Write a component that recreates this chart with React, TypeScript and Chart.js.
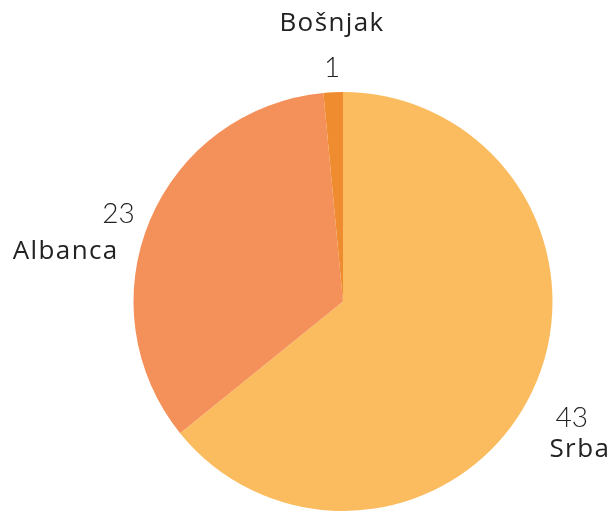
import React, { useEffect, useRef } from "react";
import { Chart, registerables } from "chart.js";

Chart.register(...registerables);

const categories = ["Srba", "Albanca", "Bošnjak"];
const values = [43, 23, 1];
const colors = ["#FBBC5F", "#F4915A", "#F08C30"];

const NUM_FONT = "Lato, 'Open Sans', sans-serif";
const NAME_FONT = "'Open Sans', Lato, sans-serif";

const labelPlugin = {
  id: "outerLabels",
  afterDatasetsDraw(chart: any) {
    const ctx = chart.ctx;
    const meta = chart.getDatasetMeta(0);
    meta.data.forEach((arc: any, i: number) => {
      const { x, y, startAngle, endAngle, outerRadius } = arc.getProps(
        ["x", "y", "startAngle", "endAngle", "outerRadius"],
        true
      );
      const mid = (startAngle + endAngle) / 2;
      const c = Math.cos(mid);
      const R = outerRadius + 28 + 11 * Math.abs(c) + (c > 0 ? 6 : -4);
      const nx = x + c * R;
      const ny = y + Math.sin(mid) * R + 8 * Math.abs(c);
      ctx.save();
      ctx.fillStyle = "#222";
      ctx.textBaseline = "middle";
      ctx.font = `300 28px ${NUM_FONT}`;
      ctx.textAlign = "center";
      const numText = String(values[i]);
      const nw = ctx.measureText(numText).width;
      ctx.fillText(numText, nx, ny);
      ctx.font = `400 26px ${NAME_FONT}`;
      (ctx as any).letterSpacing = "1.4px";
      const name = categories[i];
      if (Math.abs(c) < 0.3) {
        ctx.textAlign = "center";
        ctx.fillText(name, nx, ny - 45);
      } else if (c > 0) {
        ctx.textAlign = "left";
        ctx.fillText(name, nx - nw / 2 - 6, ny + 32);
      } else {
        ctx.textAlign = "right";
        ctx.fillText(name, nx + nw / 2 - 16, ny + 37);
      }
      ctx.restore();
    });
  },
};

export default function App() {
  const ref = useRef<HTMLCanvasElement>(null);
  useEffect(() => {
    if (!ref.current) return;
    const chart = new Chart(ref.current, {
      type: "pie",
      data: {
        labels: categories,
        datasets: [
          {
            data: values,
            backgroundColor: colors,
            borderWidth: 0,
          },
        ],
      },
      options: {
        responsive: false,
        animation: false,
        layout: { padding: { left: 133, right: 57, top: 92, bottom: 0 } },
        plugins: {
          legend: { display: false },
          tooltip: { enabled: false },
        },
      },
      plugins: [labelPlugin],
    });
    return () => chart.destroy();
  }, []);
  return (
    <div style={{ position: "fixed", left: 0, top: 0, width: 610, height: 511, background: "#fff" }}>
      <canvas ref={ref} width={610} height={511} />
    </div>
  );
}
